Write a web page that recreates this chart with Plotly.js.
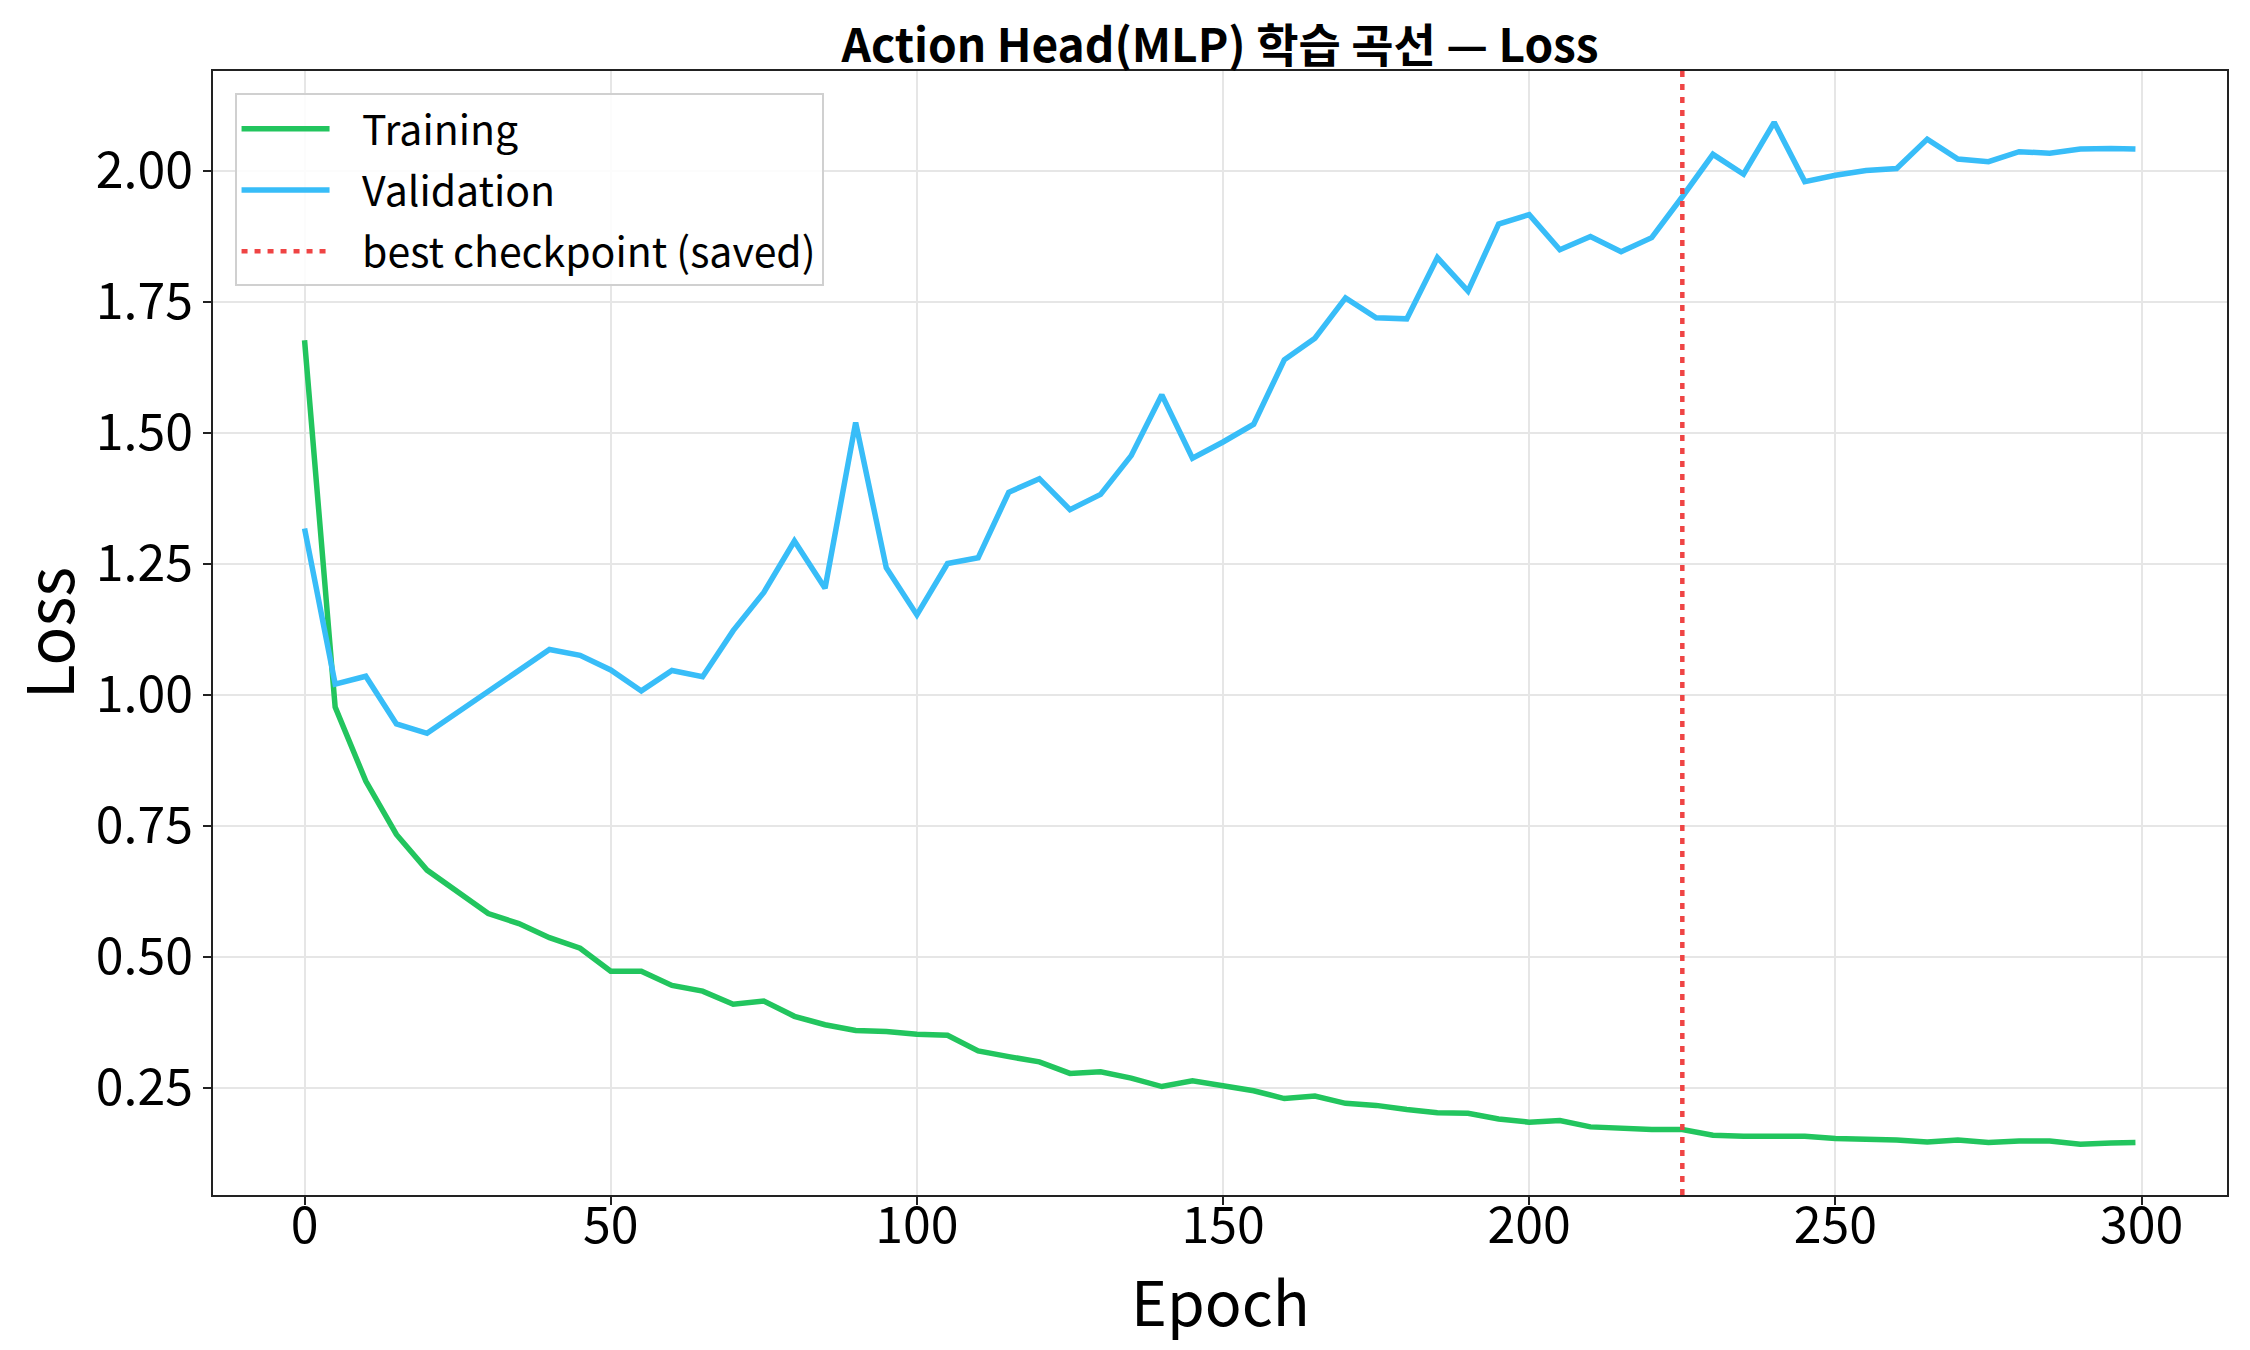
<!DOCTYPE html>
<html>
<head>
<meta charset="utf-8">
<script src="https://cdn.plot.ly/plotly-3.0.1.min.js"></script>
<style>
  html, body { margin: 0; padding: 0; background: #ffffff; }
  #chart { width: 2250px; height: 1350px; }
</style>
</head>
<body>
<div id="chart"></div>
<script>
// Dữ liệu: epoch (mỗi 5 epoch + epoch cuối)
var epochs = [0, 5, 10, 15, 20, 25, 30, 35, 40, 45, 50, 55, 60, 65, 70, 75, 80, 85, 90, 95,
              100, 105, 110, 115, 120, 125, 130, 135, 140, 145, 150, 155, 160, 165, 170, 175, 180, 185, 190, 195,
              200, 205, 210, 215, 220, 225, 230, 235, 240, 245, 250, 255, 260, 265, 270, 275, 280, 285, 290, 295, 299];

// Loss huấn luyện
var trainLoss = [1.676, 0.976, 0.835, 0.733, 0.665, 0.624, 0.582, 0.563, 0.536, 0.516,
                 0.472, 0.472, 0.445, 0.434, 0.409, 0.415, 0.386, 0.370, 0.359, 0.357,
                 0.352, 0.350, 0.320, 0.309, 0.299, 0.277, 0.280, 0.268, 0.252, 0.263,
                 0.253, 0.244, 0.229, 0.234, 0.220, 0.216, 0.208, 0.202, 0.201, 0.190,
                 0.184, 0.187, 0.175, 0.172, 0.170, 0.170, 0.159, 0.157, 0.157, 0.157,
                 0.153, 0.152, 0.150, 0.146, 0.150, 0.145, 0.148, 0.148, 0.142, 0.144, 0.145];

// Loss kiểm định
var valLoss = [1.317, 1.020, 1.035, 0.944, 0.926, 0.966, 1.007, 1.047, 1.086, 1.075,
               1.047, 1.007, 1.046, 1.034, 1.122, 1.195, 1.293, 1.203, 1.519, 1.242,
               1.152, 1.250, 1.261, 1.386, 1.412, 1.353, 1.382, 1.456, 1.572, 1.451,
               1.482, 1.516, 1.639, 1.680, 1.757, 1.719, 1.717, 1.834, 1.770, 1.898,
               1.916, 1.849, 1.874, 1.845, 1.872, 1.950, 2.031, 1.993, 2.092, 1.979,
               1.991, 2.000, 2.004, 2.060, 2.022, 2.017, 2.036, 2.033, 2.041, 2.042, 2.041];

// Epoch lưu checkpoint tốt nhất
var bestEpoch = 225;

var seriesNames = ['Training', 'Validation', 'best checkpoint (saved)'];
var chartTitle = 'Action Head(MLP) 학습 곡선 — Loss';
var xTitle = 'Epoch';
var yTitle = 'Loss';

var FONT = '"Noto Sans CJK KR", "Noto Sans", sans-serif';
// Khoảng trống giữa ký hiệu và chữ trong chú thích
var GAP = '\u00a0\u00a0\u00a0';

var traces = [
    {
        x: epochs, y: trainLoss, type: 'scatter', mode: 'lines',
        name: GAP + seriesNames[0], legendgroup: 'g1',
        line: { color: '#22c55e', width: 5.5 }
    },
    {
        x: epochs, y: valLoss, type: 'scatter', mode: 'lines',
        name: GAP + seriesNames[1], legendgroup: 'g2',
        line: { color: '#38bdf8', width: 5.5 }
    }
];

// Hàm tạo trục chung
function fn_Axis(extra) {
    var ax = {
        showline: true, mirror: true, linecolor: '#222222', linewidth: 2,
        ticks: 'outside', ticklen: 8, tickwidth: 2, tickcolor: '#222222',
        showgrid: true, gridcolor: '#e6e6e6', gridwidth: 2,
        zeroline: false,
        tickfont: { family: FONT, size: 50, color: '#000000' }
    };
    for (var k in extra) ax[k] = extra[k];
    return ax;
}

var layout = {
    width: 2250, height: 1350,
    paper_bgcolor: '#ffffff', plot_bgcolor: '#ffffff',
    margin: { l: 213, r: 23, t: 71, b: 155 },
    font: { family: FONT, color: '#000000' },
    title: {
        text: chartTitle,
        font: { family: FONT, size: 46, color: '#000000', weight: 'bold' },
        x: 0.5, xref: 'paper', xanchor: 'center',
        y: 1, yref: 'paper', yanchor: 'bottom',
        pad: { b: 9 }
    },
    xaxis: fn_Axis({
        range: [-14.95, 313.95], tick0: 0, dtick: 50,
        ticklabelstandoff: -22
    }),
    yaxis: fn_Axis({
        range: [0.045, 2.19], tick0: 0, dtick: 0.25, tickformat: '.2f',
        title: { text: yTitle, font: { family: FONT, size: 64, color: '#000000' }, standoff: 14 }
    }),
    // Nhãn trục x đặt bằng annotation để khớp vị trí
    annotations: [{
        text: xTitle, xref: 'paper', yref: 'paper',
        x: 0.5, y: -0.093, xanchor: 'center', yanchor: 'middle',
        showarrow: false,
        font: { family: FONT, size: 61, color: '#000000' }
    }],
    legend: {
        x: 0.0107, y: 0.98, xanchor: 'left', yanchor: 'top',
        bgcolor: 'rgba(255,255,255,0.85)', bordercolor: '#d0d0d0', borderwidth: 2,
        font: { family: FONT, size: 41, color: '#000000' },
        itemwidth: 88, tracegroupgap: 5
    },
    shapes: [{
        type: 'line', xref: 'x', yref: 'paper',
        x0: bestEpoch, x1: bestEpoch, y0: 0, y1: 1,
        line: { color: '#ef4444', width: 4.5, dash: '6px,7px' },
        name: GAP + seriesNames[2], showlegend: true, legendgroup: 'g3'
    }]
};

Plotly.newPlot('chart', traces, layout, { staticPlot: true, displayModeBar: false });
</script>
</body>
</html>
